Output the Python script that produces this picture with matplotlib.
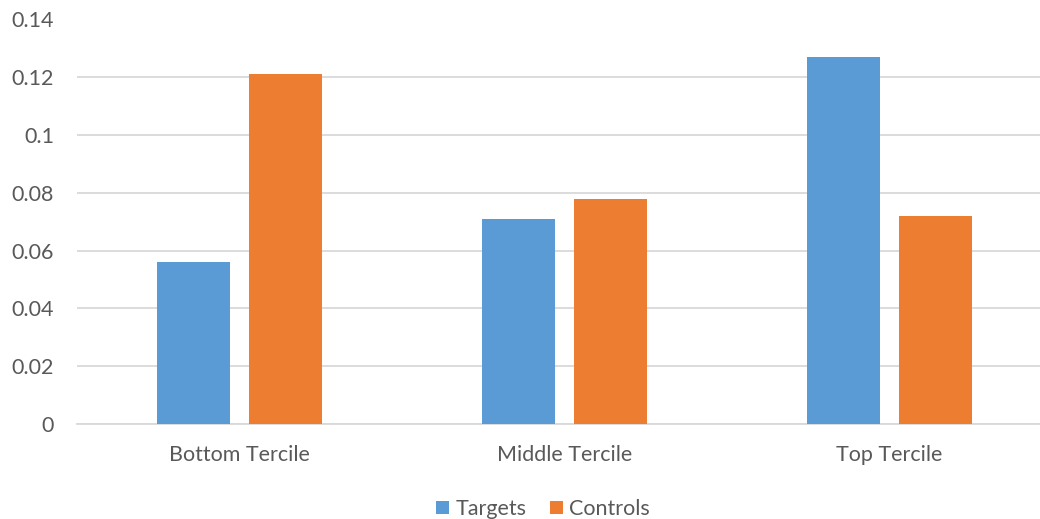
import matplotlib.pyplot as plt
import numpy as np

categories = ["Bottom Tercile", "Middle Tercile", "Top Tercile"]
targets = [0.056, 0.071, 0.127]
controls = [0.121, 0.078, 0.072]

blue = "#5B9BD5"
orange = "#ED7D31"
text_color = "#595959"

plt.rcParams['font.family'] = ['Lato', 'DejaVu Sans']

fig = plt.figure(figsize=(10.4, 5.19), dpi=100)
ax = fig.add_axes([77 / 1040, 1 - 424 / 519, 975 / 1040, 404.5 / 519])

x = np.arange(len(categories))
w = 0.225
off = 0.1415
ax.bar(x - off, targets, w, color=blue, label="Targets", zorder=3)
ax.bar(x + off, controls, w, color=orange, label="Controls", zorder=3)

ax.set_xlim(-0.5, 2.5)
ax.set_ylim(0, 0.14)
ax.set_yticks(np.arange(0, 0.141, 0.02))
ax.set_yticklabels(["0", "0.02", "0.04", "0.06", "0.08", "0.1", "0.12", "0.14"])
ax.set_xticks(x)
ax.set_xticklabels(categories)
ax.yaxis.grid(True, color="#d9d9d9", linewidth=1.3, zorder=0)
ax.tick_params(length=0, labelsize=15.5, colors=text_color)
ax.tick_params(axis='y', pad=16.5)
ax.tick_params(axis='x', pad=15)
for s in ["top", "right", "left"]:
    ax.spines[s].set_visible(False)
ax.spines["bottom"].set_color("#d9d9d9")
ax.spines["bottom"].set_linewidth(1.3)

fig.legend(loc="center", bbox_to_anchor=(543 / 1040, 1 - 509 / 519), ncol=2,
           frameon=False, fontsize=15.5, handlelength=0.6, handleheight=0.6,
           handletextpad=0.3, columnspacing=1.1, labelcolor=text_color)

fig.savefig("out.png", dpi=100)
